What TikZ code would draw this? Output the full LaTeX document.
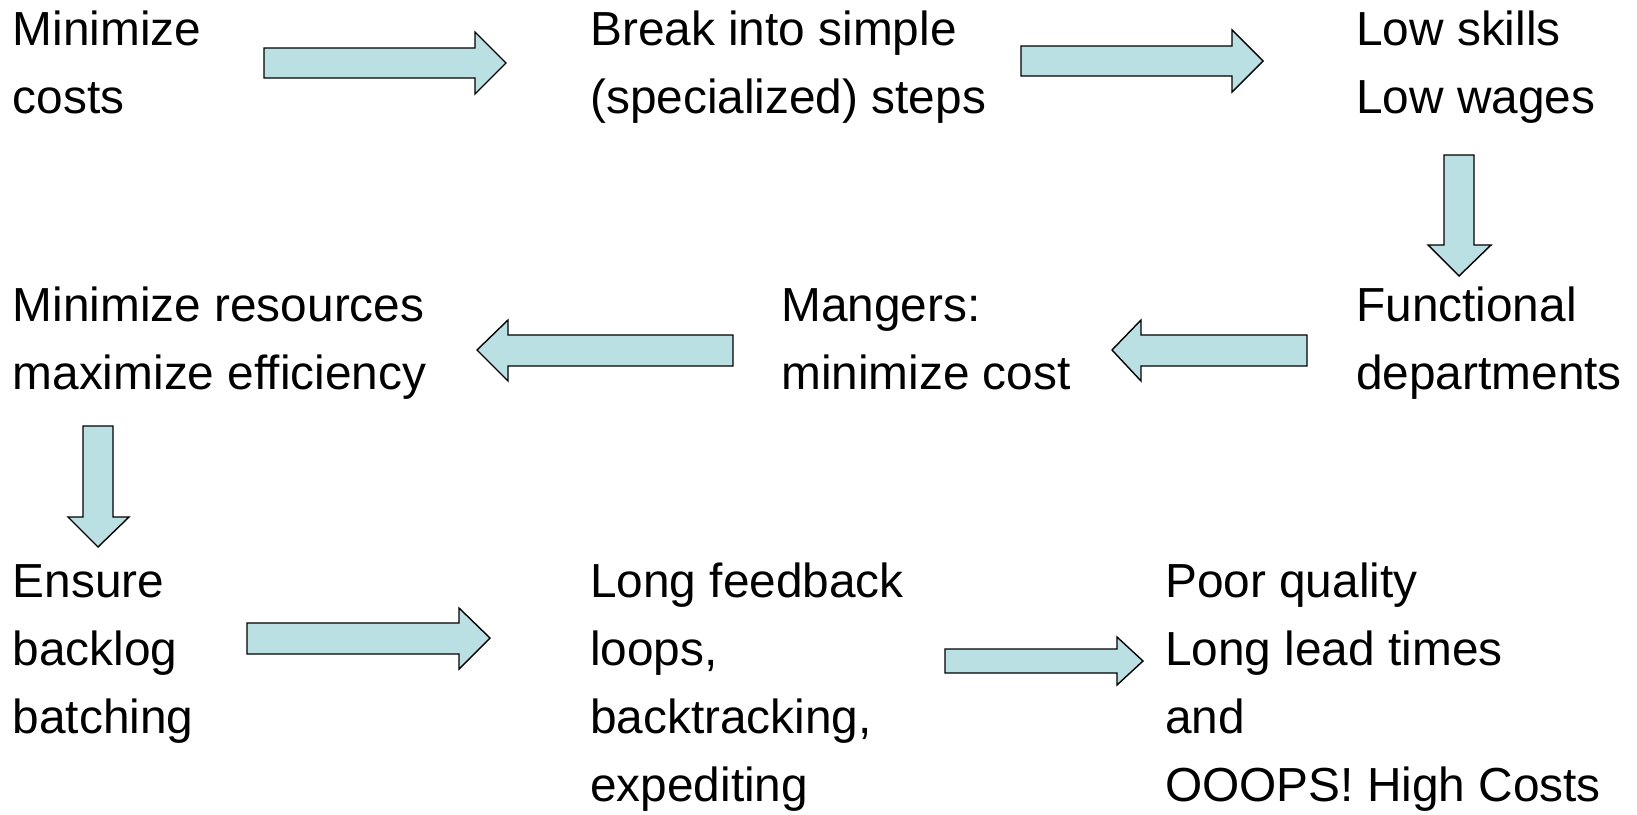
\documentclass[tikz,border=0pt]{standalone}
\usepackage{fontspec}
\setmainfont{Liberation Sans}
\usepackage{tikz}
\definecolor{arrowfill}{HTML}{BBE0E3}

\begin{document}
\begin{tikzpicture}[x=1pt, y=-1pt,
    txt/.style={anchor=base west, inner sep=0pt, align=left,
        font=\fontsize{47.8}{68}\selectfont},
    barrow/.style={draw=black, fill=arrowfill, line width=1.4pt, line join=miter}]
		\useasboundingbox (0,0) rectangle (1637,814);
		% text blocks (anchored at the baseline of their last line)
		\node[txt] (cost) at (12.5,113) {Minimize\\costs};
		\node[txt] (break) at (590,113) {Break into simple\\(specialized) steps};
		\node[txt] (skill) at (1356,113) {Low skills\\Low wages};
		\node[txt] (func) at (1356,389) {Functional\\departments};
		\node[txt] (mgr) at (781,389) {Mangers:\\minimize cost};
		\node[txt] (res) at (12.5,389) {Minimize resources\\maximize efficiency};
		\node[txt] (back) at (12.5,733) {Ensure\\backlog\\batching};
		\node[txt] (loop) at (590,801) {Long feedback\\loops,\\backtracking,\\expediting};
		\node[txt] (poor) at (1165,801) {Poor quality\\Long lead times\\and\\OOOPS! High Costs};
		% block arrows
		\draw [barrow] (264,48) -- (475,48) -- (475,32) -- (506,63)
			-- (475,94) -- (475,78) -- (264,78) -- cycle;
		\draw [barrow] (1021,46) -- (1232,46) -- (1232,30) -- (1263,61)
			-- (1232,92) -- (1232,76) -- (1021,76) -- cycle;
		\draw [barrow] (1444,155) -- (1474,155) -- (1474,245) -- (1491,245)
			-- (1459,276) -- (1428,245) -- (1444,245) -- cycle;
		\draw [barrow] (1307,335) -- (1141,335) -- (1141,320) -- (1112,350)
			-- (1141,381) -- (1141,366) -- (1307,366) -- cycle;
		\draw [barrow] (733,335) -- (508,335) -- (508,320) -- (477,350)
			-- (508,381) -- (508,366) -- (733,366) -- cycle;
		\draw [barrow] (83,426) -- (113,426) -- (113,517) -- (129,517)
			-- (98,547) -- (68,517) -- (83,517) -- cycle;
		\draw [barrow] (247,623) -- (459,623) -- (459,608) -- (490,638)
			-- (459,669) -- (459,654) -- (247,654) -- cycle;
		\draw [barrow] (945,649) -- (1117,649) -- (1117,637) -- (1143,661)
			-- (1117,685) -- (1117,673) -- (945,673) -- cycle;
\end{tikzpicture}
\end{document}
